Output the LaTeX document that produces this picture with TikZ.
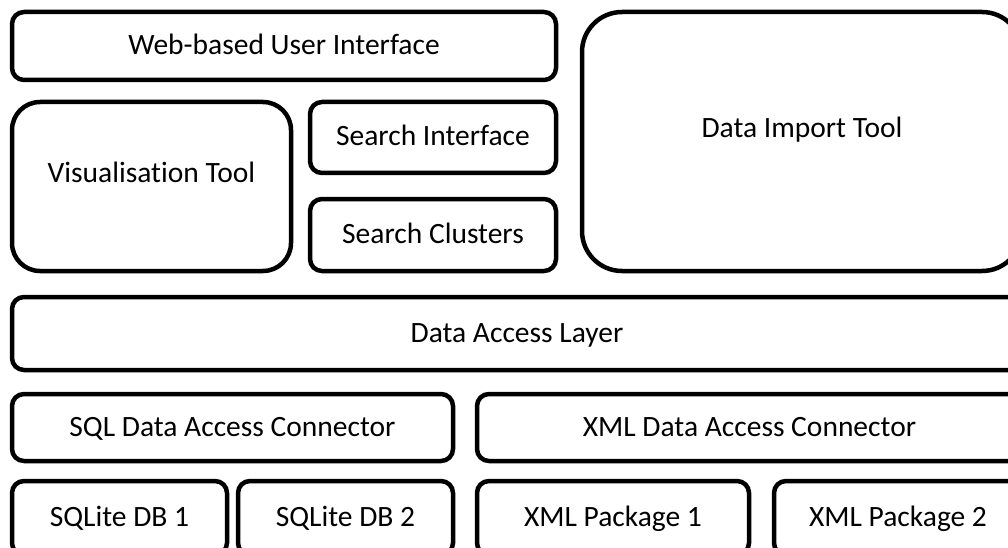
\documentclass[tikz,border=0pt]{standalone}
\usepackage{fontspec}
\setmainfont{Carlito}[Ligatures=NoCommon]

\begin{document}
\begin{tikzpicture}[x=1pt, y=-1pt,
  box/.style={draw, line width=4.5pt, rounded corners=12pt, inner sep=0pt,
    font=\fontsize{29.5}{34}\selectfont, text height=22pt, text depth=5pt},
  tallbox/.style={box, text depth=30pt}]
  \useasboundingbox (0,0) rectangle (1008,548);
  \clip (0,0) rectangle (1008,548);

  % Top part: user interface and tools
  \node[box, minimum width=544pt, minimum height=68pt] (web) at (284,46) {Web-based User Interface};
  \node[tallbox, rounded corners=28pt, minimum width=279pt, minimum height=169pt] (vis) at (151.5,186.5) {Visualisation Tool};
  \node[box, minimum width=246pt, minimum height=71pt] (sint) at (433,137.5) {Search Interface};
  \node[box, minimum width=246pt, minimum height=72pt] (sclu) at (433,235) {Search Clusters};
  \node[tallbox, rounded corners=40pt, minimum width=440pt, minimum height=259pt] (imp) at (802,141.5) {Data Import Tool};

  % Access layer
  \node[box, minimum width=1010pt, minimum height=73pt] (dal) at (517,333.5) {Data Access Layer};

  % Connectors
  \node[box, minimum width=441pt, minimum height=67pt] (sqlc) at (232.5,427.5) {SQL Data Access Connector};
  \node[box, minimum width=545pt, minimum height=67pt] (xmlc) at (749.5,427.5) {XML Data Access Connector};

  % Data sources
  \node[box, minimum width=215pt, minimum height=74pt] (db1) at (119.5,518) {SQLite DB 1};
  \node[box, minimum width=215pt, minimum height=74pt] (db2) at (345.5,518) {SQLite DB 2};
  \node[box, minimum width=272pt, minimum height=74pt] (xp1) at (613,518) {XML Package 1};
  \node[box, minimum width=248pt, minimum height=74pt] (xp2) at (898,518) {XML Package 2};
\end{tikzpicture}
\end{document}
